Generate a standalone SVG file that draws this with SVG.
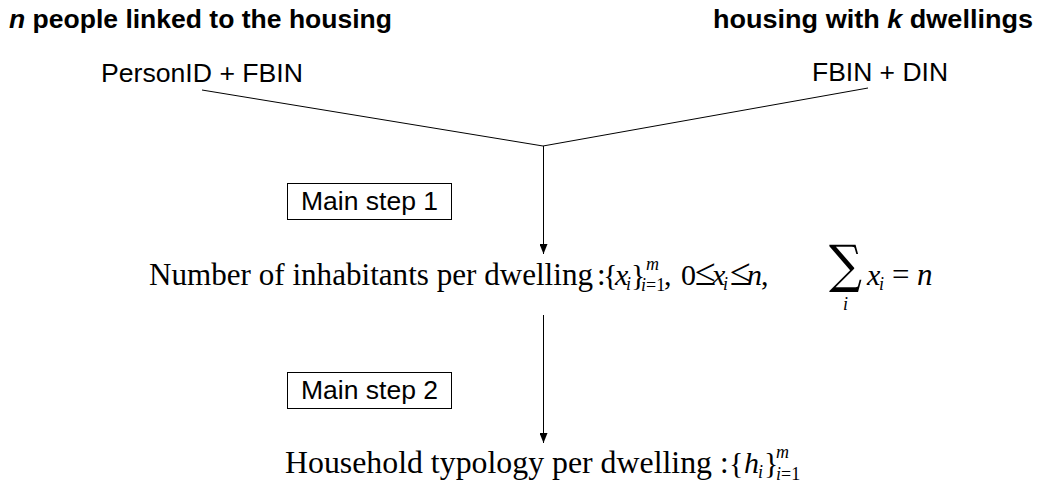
<svg xmlns="http://www.w3.org/2000/svg" width="1041" height="486" viewBox="0 0 1041 486">
<defs>
<style>
.hdr{font-family:"Liberation Sans",Arial,sans-serif;font-weight:bold;font-size:26px;fill:#000}
.lbl{font-family:"Liberation Sans",Arial,sans-serif;font-size:26px;fill:#000}
.m{font-family:"Liberation Serif","Times New Roman",serif;font-size:30px;fill:#000}
.big{font-size:31px}
.it{font-style:italic}
.s{font-size:18px}
.le{font-size:38px}
.sum{font-family:"DejaVu Serif",serif;font-size:52px;fill:#000}
.ln{stroke:#000;stroke-width:1;fill:none}
.box{fill:#fff;stroke:#000;stroke-width:1}
</style>
<marker id="arr" markerUnits="userSpaceOnUse" markerWidth="10" markerHeight="8" refX="10" refY="4" orient="auto" viewBox="0 0 10 8">
<path d="M0,0 L10,4 L0,8 z" fill="#000"/>
</marker>
</defs>
<rect width="1041" height="486" fill="#fff"/>
<g id="header-left"><text class="hdr" x="9" y="28" textLength="383" lengthAdjust="spacingAndGlyphs"><tspan font-style="italic">n</tspan> people linked to the housing</text></g>
<g id="header-right"><text class="hdr" x="713" y="28" textLength="320" lengthAdjust="spacingAndGlyphs">housing with <tspan font-style="italic">k</tspan> dwellings</text></g>
<g id="person"><text class="lbl" x="101" y="82" textLength="202" lengthAdjust="spacingAndGlyphs">PersonID + FBIN</text></g>
<g id="fbin"><text class="lbl" x="812" y="81" textLength="136" lengthAdjust="spacingAndGlyphs">FBIN + DIN</text></g>
<g id="connectors">
<polyline class="ln" points="202,90 543,146 868,88"/>
<line class="ln" x1="543.5" y1="146" x2="543.5" y2="254" marker-end="url(#arr)"/>
<line class="ln" x1="543.5" y1="315" x2="543.5" y2="443" marker-end="url(#arr)"/>
</g>
<g id="step1"><rect class="box" x="287.5" y="183.5" width="164" height="36"/><text class="lbl" x="369.5" y="210" text-anchor="middle" textLength="137" lengthAdjust="spacingAndGlyphs">Main step 1</text></g>
<g id="step2"><rect class="box" x="287.5" y="372.5" width="164" height="36"/><text class="lbl" x="369.5" y="399" text-anchor="middle" textLength="137" lengthAdjust="spacingAndGlyphs">Main step 2</text></g>
<g id="inhabitants">
<text class="m big" x="149" y="285" textLength="444" lengthAdjust="spacingAndGlyphs">Number of inhabitants per dwelling</text>
<text class="m big" x="597" y="285">:</text>
<text class="m" x="603" y="285">{</text>
<text class="m it" x="615" y="285">x</text>
<text class="m it s" x="626" y="290">i</text>
<text class="m" x="631" y="285">}</text>
<text class="m it s" x="646" y="270">m</text>
<text class="m s" x="641" y="291"><tspan font-style="italic">i</tspan>=1</text>
<text class="m" x="664" y="285">,</text>
<text class="m" x="681" y="285">0</text>
<text class="m le" x="695" y="285">≤</text>
<text class="m it" x="712" y="285">x</text>
<text class="m it s" x="723" y="290">i</text>
<text class="m le" x="730" y="285">≤</text>
<text class="m it" x="747" y="285">n</text>
<text class="m" x="761" y="285">,</text>
<text class="sum" x="829" y="282" textLength="33" lengthAdjust="spacingAndGlyphs">∑</text>
<text class="m it s" x="843" y="310">i</text>
<text class="m it" x="867" y="285">x</text>
<text class="m it s" x="879" y="290">i</text>
<text class="m big" x="892" y="285">=</text>
<text class="m it big" x="917" y="285">n</text>
</g>
<g id="typology">
<text class="m big" x="285" y="473" textLength="427" lengthAdjust="spacingAndGlyphs">Household typology per dwelling</text>
<text class="m big" x="720" y="473">:</text>
<text class="m" x="729" y="473">{</text>
<text class="m it" x="744" y="473">h</text>
<text class="m it s" x="758" y="478">i</text>
<text class="m" x="764" y="473">}</text>
<text class="m it s" x="776" y="458">m</text>
<text class="m s" x="776" y="480"><tspan font-style="italic">i</tspan>=1</text>
</g>
</svg>
